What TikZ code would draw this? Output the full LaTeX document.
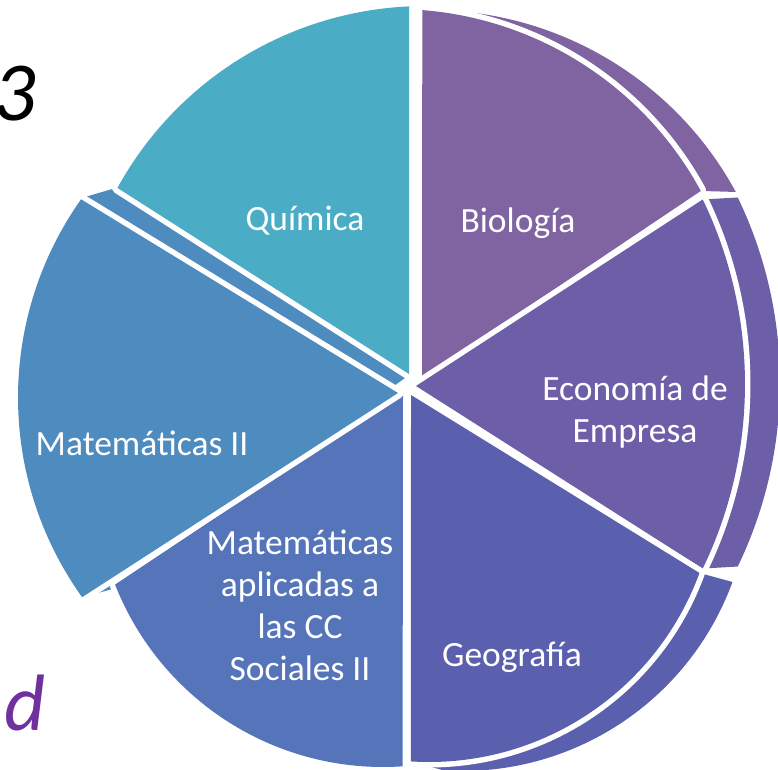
\documentclass[tikz,border=0pt]{standalone}
\usepackage{fontspec}
\setmainfont{Carlito}
\usetikzlibrary{calc}
\definecolor{quimcol}{HTML}{4BACC6}
\definecolor{biocol}{HTML}{8064A2}
\definecolor{ecocol}{HTML}{6D5EA8}
\definecolor{geocol}{HTML}{5A5FAE}
\definecolor{mapcol}{HTML}{5574BA}
\definecolor{matcol}{HTML}{4E8BBF}
\definecolor{dcol}{HTML}{7030A0}
\begin{document}
\begin{tikzpicture}[x=1pt,y=-1pt,
    face/.style={fill=#1,preaction={draw=white,line width=11pt,line join=round}},
    side/.style={fill=#1},
    lbl/.style={text=white,font=\fontsize{35.5}{42}\selectfont,align=center,inner sep=0pt}]
\useasboundingbox (0,0) rectangle (778,769);
\clip (0,0) rectangle (778,769);
\coordinate (cq) at (425,357);
\coordinate (cb) at (395,357);
\coordinate (ce) at (321,384);
\coordinate (cg) at (429,474);
\coordinate (cm) at (383,479);
\coordinate (c2) at (361,397.5);
% sides
\fill[side=biocol] (422,378) -- (422,10) -- ($(cb)+(35,1)+(-85.5:348)$) arc[start angle=-85.5,end angle=-28.5,radius=348] -- ($(cb)+(-28.5:348)$) -- cycle;
\fill[side=ecocol] (416,386) -- ($(ce)+(-25.8:424)$) -- ($(ce)+(35,-2)+(-25.8:424)$) arc[start angle=-25.8,end angle=25.8,radius=424] -- ($(ce)+(25.8:424)$) -- cycle;
\fill[side=geocol] (411,395) -- ($(cg)+(20.1:288)$) -- ($(cg)+(33,9)+(20.1:288)$) arc[start angle=20.1,end angle=93.6,radius=288] -- ($(cg)+(93.6:288)$) -- cycle;
\fill[side=matcol] ($(c2)+(144.4:343)$) arc[start angle=144.4,end angle=215.6,radius=343] -- ++(34,-10) -- (405,378) -- ($(c2)+(30,-8)+(144.4:343)$) -- cycle;
% faces
\path[face=quimcol] (409,374) -- ($(cq)+(-92.6:351)$) arc[start angle=-92.6,end angle=-151.2,radius=351] -- cycle;
\path[face=biocol] (422,378) -- ($(cb)+(-85.5:348)$) arc[start angle=-85.5,end angle=-28.5,radius=348] -- cycle;
\path[face=ecocol] (416,386) -- ($(ce)+(-25.8:424)$) arc[start angle=-25.8,end angle=25.8,radius=424] -- cycle;
\path[face=geocol] (411,395) -- ($(cg)+(20.1:288)$) arc[start angle=20.1,end angle=93.6,radius=288] -- cycle;
\path[face=mapcol] (403,393) -- ($(cm)+(86.1:288)$) arc[start angle=86.1,end angle=158.5,radius=288] -- cycle;
\path[face=matcol] (398,393) -- ($(c2)+(144.4:343)$) arc[start angle=144.4,end angle=215.3,radius=343] -- cycle;
\node[lbl] (quimica) at (305,221) {Química};
\node[lbl] (biologia) at (518,223) {Biología};
\node[lbl] (economia) at (635,412) {Economía de\\Empresa};
\node[lbl] (geografia) at (512,657) {Geografía};
\node[lbl] (matap) at (300,605) {Matemáticas\\aplicadas a\\las CC\\Sociales II};
\node[lbl] (matII) at (142,443) {Matemáticas II};
\node[anchor=base east,inner sep=0pt,font=\fontsize{84}{84}\selectfont\itshape] (tres) at (36,120) {3};
\node[anchor=base west,inner sep=0pt,text=dcol,font=\fontsize{80}{80}\selectfont\itshape] (letrad) at (4,730) {d};
\end{tikzpicture}
\end{document}
